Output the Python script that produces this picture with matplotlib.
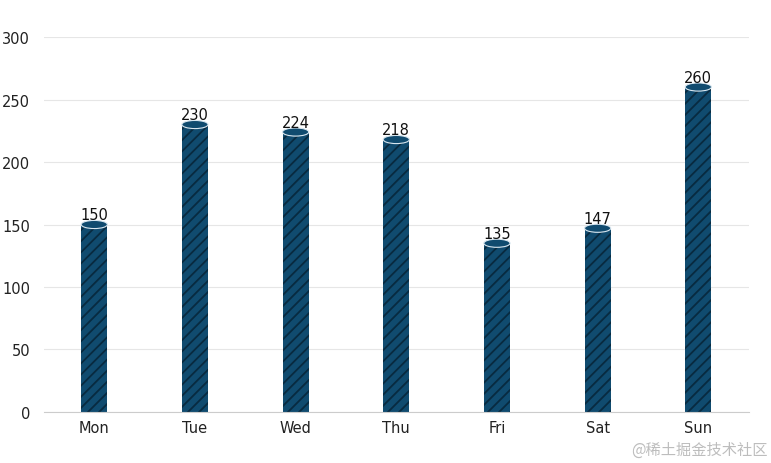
import matplotlib
matplotlib.use("Agg")
import matplotlib.pyplot as plt
from matplotlib.patches import Ellipse
import numpy as np

days = ["Mon", "Tue", "Wed", "Thu", "Fri", "Sat", "Sun"]
values = [150, 230, 224, 218, 135, 147, 260]

BAR = "#104b6f"
HATCH = "#082a40"

plt.rcParams["hatch.linewidth"] = 1.3
fig = plt.figure(figsize=(7.71, 4.64), dpi=100)
ax = fig.add_axes([0.057, 0.110, 0.914, 0.808])

x = np.arange(len(days))
w = 0.26
ax.bar(x, values, width=w, color=BAR, edgecolor=HATCH, linewidth=0,
       hatch="///", zorder=2)
for xi, v in zip(x, values):
    ax.add_patch(Ellipse((xi, v), w, 6.5, facecolor=BAR, edgecolor="#d8e6ef",
                         linewidth=0.8, zorder=3))
    ax.text(xi, v + 2.0, str(v), ha="center", va="bottom", fontsize=10.5,
            color="#111111", zorder=4)

ax.set_xlim(-0.5, len(days) - 0.5)
ax.set_ylim(0, 300)
ax.set_yticks(range(0, 301, 50))
ax.set_xticks(x)
ax.set_xticklabels(days)
ax.tick_params(axis="both", length=0, labelsize=10.5, colors="#222222")
ax.tick_params(axis="y", pad=10)
ax.tick_params(axis="x", pad=6)
ax.grid(axis="y", color="#e6e6e6", linewidth=0.8, zorder=0)
for s in ["top", "right", "left"]:
    ax.spines[s].set_visible(False)
ax.spines["bottom"].set_color("#cccccc")

fig.text(0.995, 0.012, "@稀土掘金技术社区", ha="right", va="bottom",
         fontsize=11, color="#bdbdbd",
         family=["Noto Sans CJK SC", "DejaVu Sans"])

fig.savefig("out.png", dpi=100)
